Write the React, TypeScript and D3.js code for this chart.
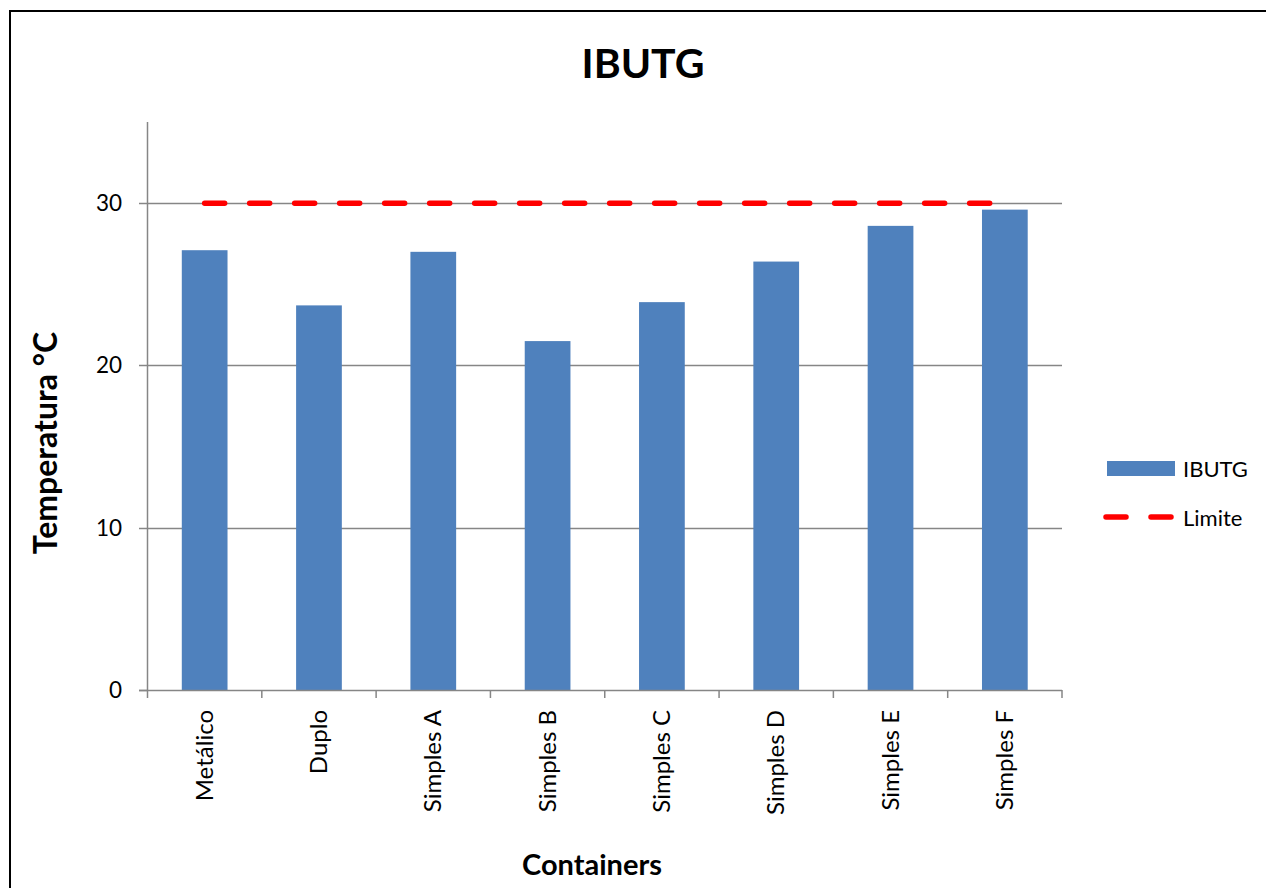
import React from "react";
import * as d3 from "d3";

const categories = ["Metálico", "Duplo", "Simples A", "Simples B", "Simples C", "Simples D", "Simples E", "Simples F"];
const ibutgValues = [27.1, 23.7, 27.0, 21.5, 23.9, 26.4, 28.6, 29.6];
const limiteValues = [30, 30, 30, 30, 30, 30, 30, 30];
const yTicks = [0, 10, 20, 30];

const FONT = "Lato, 'Open Sans', sans-serif";

export default function App() {
  const W = 1266, H = 888;
  const left = 147.5, right = 1062, top = 122, bottom = 690;
  const x = d3.scaleBand<string>().domain(categories).range([left, right]).paddingInner(0.6).paddingOuter(0.3);
  const xb = d3.scaleBand<string>().domain(categories).range([left, right]);
  const y = d3.scaleLinear().domain([0, 35]).range([bottom, top]);
  const line = d3.line<number>().x((_, i) => (xb(categories[i]) as number) + xb.bandwidth() / 2).y(d => y(d));
  const grey = "#868686";
  const blue = "#4F81BD";
  const red = "#FF0000";
  const boundaries = categories.map(c => xb(c) as number).concat([right]);
  return (
    <svg width={W} height={H} style={{ position: "absolute", left: 0, top: 0, display: "block", background: "#fff" }}>
      <rect x={10} y={11} width={W + 10} height={H + 10} fill="#fff" stroke="#000" strokeWidth={2} />
      <text x={643} y={78} textAnchor="middle" fontFamily={FONT} fontWeight="bold" fontSize={41}>IBUTG</text>
      {yTicks.filter(t => t > 0).map(t => (
        <line key={t} x1={left} x2={right} y1={Math.round(y(t)) + 0.5} y2={Math.round(y(t)) + 0.5} stroke={grey} strokeWidth={1.5} />
      ))}
      {categories.map((c, i) => (
        <rect key={c} x={x(c)} y={y(ibutgValues[i])} width={x.bandwidth()} height={bottom - y(ibutgValues[i])} fill={blue} />
      ))}
      <line x1={left} x2={left} y1={top} y2={bottom} stroke={grey} strokeWidth={1.5} />
      <line x1={139} x2={right} y1={bottom + 0.5} y2={bottom + 0.5} stroke={grey} strokeWidth={1.5} />
      {yTicks.map(t => (
        <g key={t}>
          <line x1={139} x2={left} y1={Math.round(y(t)) + 0.5} y2={Math.round(y(t)) + 0.5} stroke={grey} strokeWidth={1.5} />
          <text x={122} y={y(t) + 8} textAnchor="end" fontFamily={FONT} fontSize={22.5}>{t}</text>
        </g>
      ))}
      {boundaries.map((b, i) => (
        <line key={i} x1={b} x2={b} y1={bottom} y2={bottom + 8} stroke={grey} strokeWidth={1.5} />
      ))}
      <path d={line(limiteValues) || ""} fill="none" stroke={red} strokeWidth={5.5} strokeDasharray="20 25" strokeLinecap="round" />
      {categories.map(c => {
        const cx = (xb(c) as number) + xb.bandwidth() / 2;
        return (
          <text key={c} transform={`translate(${cx + 8},${bottom + 20}) rotate(-90)`} textAnchor="end" fontFamily={FONT} fontSize={24}>{c}</text>
        );
      })}
      <text x={592} y={875} textAnchor="middle" fontFamily={FONT} fontWeight="bold" fontSize={29}>Containers</text>
      <text transform={`translate(57,443) rotate(-90)`} textAnchor="middle" fontFamily={FONT} fontWeight="bold" fontSize={32}>Temperatura °C</text>
      <rect x={1107} y={461} width={68} height={15} fill={blue} />
      <text x={1183} y={477} fontFamily={FONT} fontSize={22}>IBUTG</text>
      <line x1={1106} x2={1171} y1={517} y2={517} stroke={red} strokeWidth={5.5} strokeDasharray="20 25" strokeLinecap="round" />
      <text x={1183} y={526} fontFamily={FONT} fontSize={22}>Limite</text>
    </svg>
  );
}
